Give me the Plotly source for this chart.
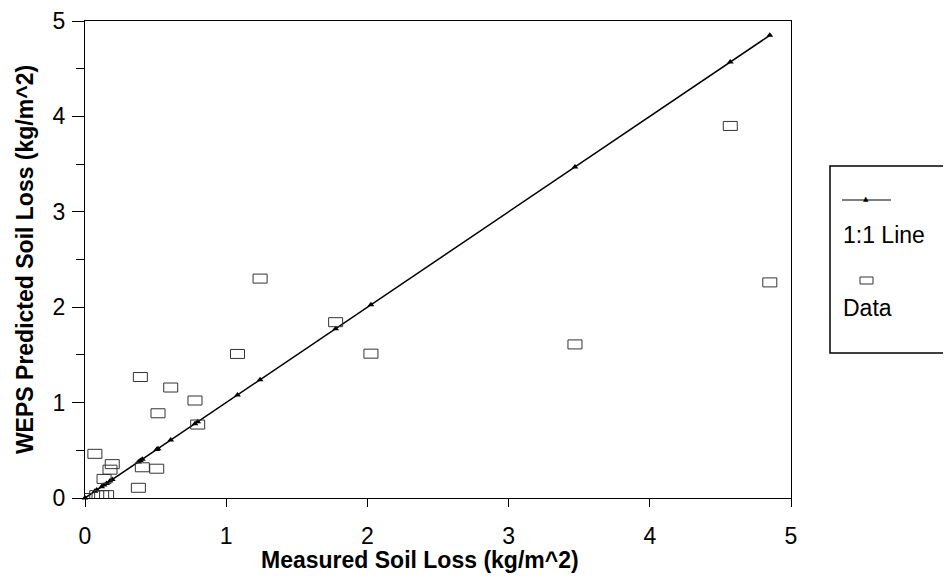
import plotly.graph_objects as go

# ---- data ----
measured = [0.0, 0.07, 0.083, 0.118, 0.135, 0.153, 0.177, 0.193, 0.378, 0.392, 0.406,
            0.508, 0.517, 0.607, 0.779, 0.798, 1.08, 1.24, 1.775, 2.025, 3.47, 4.57, 4.85]
predicted = [0.0, 0.463, 0.03, 0.03, 0.20, 0.03, 0.297, 0.355, 0.107, 1.268, 0.322,
             0.307, 0.888, 1.158, 1.022, 0.770, 1.51, 2.30, 1.843, 1.513, 1.61, 3.90, 2.26]
line_x = sorted(measured)
line_y = list(line_x)
tick_vals = [0, 1, 2, 3, 4, 5]
tick_text = ["0", "1", "2", "3", "4", "5"]

FONT = "Liberation Sans, Arial, sans-serif"
OFF = 8  # default page body margin
W, H = 951 - OFF, 580 - OFF
# plot area in page pixels: x 85..791, y 21..498
L, T = 85 - OFF, 21 - OFF
R = W - (791 - OFF)
B = H - (498 - OFF)
PW, PH = W - L - R, H - T - B


def px(xp):
    return (xp - OFF - L) / PW


def py(yp):
    return (H - B - (yp - OFF)) / PH


fig = go.Figure()

# 1:1 line with small triangle markers
fig.add_trace(go.Scatter(
    x=line_x, y=line_y, mode="lines+markers", name="1:1 Line",
    line=dict(color="black", width=1.5),
    marker=dict(symbol="triangle-up", size=6, color="black"),
    cliponaxis=False, showlegend=False))

# data trace (hover carrier); the rectangles are drawn as data-anchored shapes
fig.add_trace(go.Scatter(
    x=measured, y=predicted, mode="markers", name="Data",
    marker=dict(symbol="square-open", size=12, color="rgba(0,0,0,0)"),
    showlegend=False))

shapes = []
for mx, pv in zip(measured, predicted):
    shapes.append(dict(
        type="rect", xref="x", yref="y",
        xsizemode="pixel", ysizemode="pixel",
        xanchor=mx, yanchor=pv,
        x0=-7, x1=7, y0=-4.5, y1=4.5,
        line=dict(color="#333333", width=1), fillcolor="rgba(0,0,0,0)",
        layer="above"))

# legend (symbols above their labels, as in the reference)
shapes += [
    dict(type="rect", xref="paper", yref="paper", x0=px(830), x1=px(965), y0=py(353), y1=py(166),
         line=dict(color="black", width=1.5), fillcolor="rgba(0,0,0,0)"),
    dict(type="line", xref="paper", yref="paper", x0=px(842), x1=px(891), y0=py(200), y1=py(200),
         line=dict(color="black", width=1.2)),
    dict(type="rect", xref="paper", yref="paper", x0=px(860), x1=px(873), y0=py(284), y1=py(277),
         line=dict(color="#333333", width=1), fillcolor="rgba(0,0,0,0)"),
]

annotations = [
    dict(text="▲", xref="paper", yref="paper", x=px(866), y=py(199), showarrow=False,
         font=dict(family="DejaVu Sans", size=7, color="black"), xanchor="center", yanchor="middle"),
    dict(text="1:1 Line", xref="paper", yref="paper", x=px(841), y=py(235), showarrow=False,
         font=dict(family=FONT, size=23, color="black"), xanchor="left", yanchor="middle"),
    dict(text="Data", xref="paper", yref="paper", x=px(841), y=py(308), showarrow=False,
         font=dict(family=FONT, size=23, color="black"), xanchor="left", yanchor="middle"),
    dict(text="<b>Measured Soil Loss (kg/m^2)</b>", xref="paper", yref="paper",
         x=px(420), y=py(560), showarrow=False,
         font=dict(family=FONT, size=23, color="black"), xanchor="center", yanchor="middle"),
]

fig.update_layout(
    width=W, height=H,
    margin=dict(l=L, r=R, t=T, b=B, autoexpand=False),
    paper_bgcolor="white", plot_bgcolor="white",
    font=dict(family=FONT, color="black"),
    showlegend=False,
    shapes=shapes,
    annotations=annotations,
)

fig.update_xaxes(
    range=[0, 5], tickvals=tick_vals, ticktext=tick_text,
    showgrid=False, zeroline=False, automargin=False,
    showline=True, linecolor="black", linewidth=1, mirror=True,
    ticks="outside", ticklen=8, tickcolor="black",
    tickfont=dict(family=FONT, size=23, color="black"),
    ticklabelstandoff=9,
)
fig.update_yaxes(
    range=[0, 5], tickvals=tick_vals, ticktext=tick_text,
    showgrid=False, zeroline=False, automargin=False,
    showline=True, linecolor="black", linewidth=1, mirror=True,
    ticks="outside", ticklen=12, tickcolor="black",
    minor=dict(dtick=0.5, ticks="outside", ticklen=8, tickcolor="black"),
    tickfont=dict(family=FONT, size=23, color="black"),
    ticklabelstandoff=2,
    title=dict(text="<b>WEPS Predicted Soil Loss (kg/m^2)</b>",
               font=dict(family=FONT, size=23, color="black"), standoff=12),
)

fig.write_html("out.html")
